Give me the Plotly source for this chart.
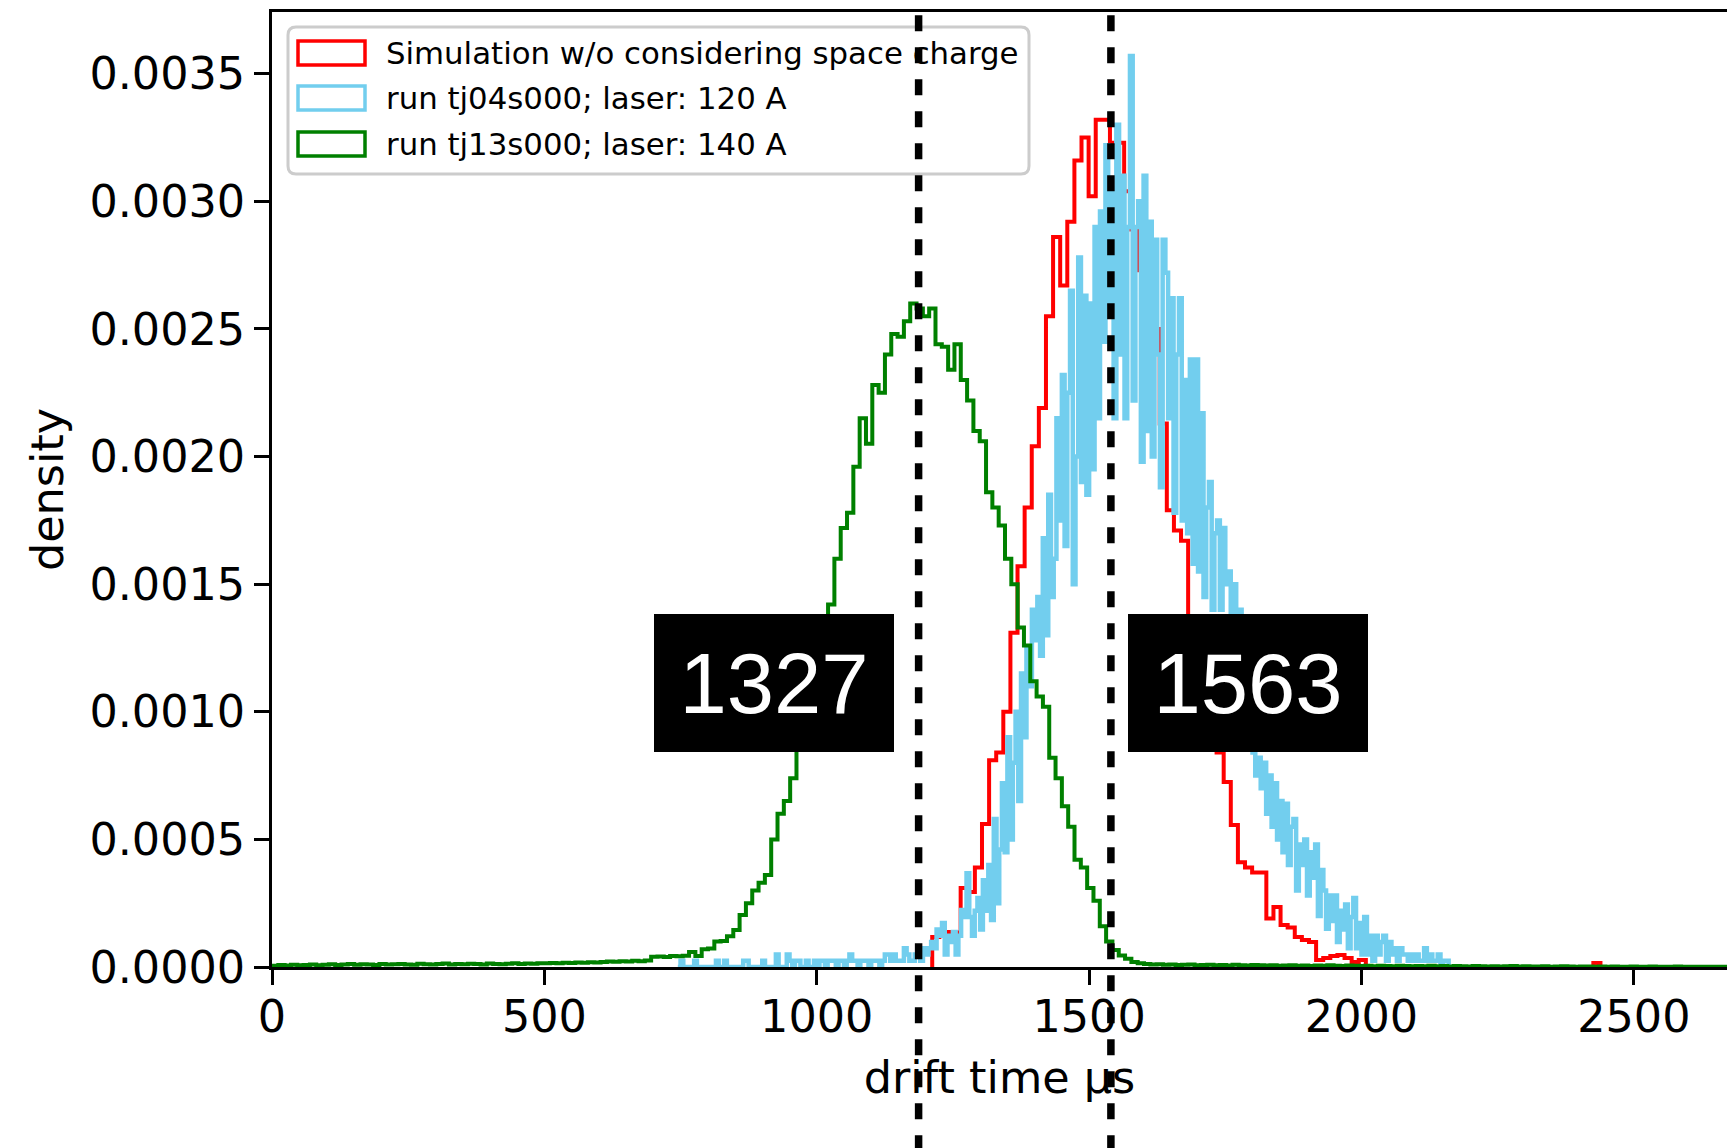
import plotly.graph_objects as go

# ---------------- data (densities in units of 1e-5) ----------------
series_names = [
    "Simulation w/o considering space charge",
    "run tj04s000; laser: 120 A",
    "run tj13s000; laser: 140 A",
]

# simulation (red): first bin edge, bin width (drift time, µs)
sim_start = 1212.0
sim_width = 13.05
sim_density_e5 = [
    11.8, 13.3, 13.7, 13.5, 31, 29.4, 39, 56, 81, 84,
    100, 131, 157, 180, 204, 219, 255, 286, 267, 292,
    316, 325, 302, 332, 332, 323, 323, 304, 289, 273,
    261, 250, 213, 179, 171, 167, 134, 118, 109, 99,
    84, 72.5, 55.6, 41, 39, 37, 37, 19, 23.5, 16.5,
    15.5, 11.8, 10.6, 9.8, 2.7, 3.5, 4.3, 4.7, 3.5, 2.0, 2.7,
    0, 0, 0, 0, 0, 0, 0, 0, 0, 0, 0, 0, 0, 0, 0, 0,
    0, 0, 0, 0, 0, 0, 0, 0, 0, 0, 0, 0, 0, 0, 0, 0,
    1.6,
    0, 0, 0, 0, 0, 0, 0, 0, 0, 0, 0, 0, 0, 0, 0, 0, 0, 0, 0,
]

# run tj04s000 (light blue)
run04_start = 745.0
run04_width = 5.0
run04_density_e5 = [
    0, 2.45, 0, 0, 0, 0, 2.45, 0, 0, 0,
    0, 0, 0, 0, 2.45, 0, 0, 2.45, 0, 0,
    0, 0, 0, 0, 2.45, 2.45, 0, 0, 0, 0,
    0, 2.45, 0, 0, 0, 0, 4.9, 0, 0, 0,
    4.9, 2.45, 0, 2.45, 2.45, 0, 0, 2.45, 0, 0,
    2.45, 0, 2.45, 2.45, 0, 2.45, 2.45, 2.45, 0, 2.45,
    2.45, 0, 2.45, 4.9, 2.45, 2.45, 0, 2.45, 2.45, 2.45,
    0, 2.45, 2.45, 2.45, 0, 2.45, 4.9, 4.9, 2.45, 4.9,
    2.45, 2.45, 2.45, 7.35, 4.9, 2.45, 2.45, 4.9, 4.9, 2.45,
    7.35, 4.9, 7.35, 9.8, 7.35, 14.7, 12.2, 17.2, 4.9, 12.2,
    9.8, 13.7, 4.9, 12.2, 22.3, 19.6, 36.7, 19.6, 12.2, 22,
    27, 14.7, 34, 22, 40, 18.4, 58, 25, 46, 72,
    45, 90, 50, 80, 100, 65, 115, 90, 125, 110,
    140, 128, 145, 122, 168, 130, 185, 145, 160, 215,
    175, 232, 165, 225, 265, 150, 200, 278, 190, 263,
    185, 260, 195, 290, 215, 296, 245, 322, 260, 305,
    215, 330, 240, 310, 215, 290, 357, 222, 290, 300,
    198, 310, 210, 292, 200, 285, 240, 188, 285, 272,
    215, 262, 178, 240, 262, 175, 230, 170, 238, 158,
    238, 155, 217, 145, 180, 190, 140, 170, 175, 140,
    172, 150, 155, 135, 150, 125, 140, 115, 120, 100,
    110, 84, 75, 82, 70, 80, 60, 75, 55, 72,
    50, 65, 45, 64, 40, 55, 58, 30, 48, 40,
    50, 28, 45, 35, 48, 20, 38, 30, 15, 28,
    18, 28, 9.8, 22, 14.7, 24.5, 7.35, 19.6, 27, 7.35,
    17.2, 4.9, 19.6, 4.9, 12.2, 2.45, 12.2, 4.9, 9.8, 12.2,
    2.45, 9.8, 4.9, 7.35, 2.45, 7.35, 4.9, 4.9, 2.45, 4.9,
    2.45, 4.9, 2.45, 2.45, 7.35, 2.45, 4.9, 2.45, 2.45, 4.9,
    0, 2.45, 2.45, 0,
]

# run tj13s000 (green)
run13_start = 0.0
run13_width = 11.6
run13_density_e5 = [
    0.5, 0.8, 0.6, 0.9, 0.7, 0.8, 1.0, 0.7, 0.9, 1.1,
    0.8, 1.0, 1.2, 0.9, 1.1, 1.0, 0.8, 1.2, 1.0, 1.1,
    1.2, 1.0, 0.9, 1.3, 1.1, 1.0, 1.2, 1.4, 1.0, 1.2,
    1.1, 1.3, 1.2, 1.0, 1.4, 1.2, 1.1, 1.3, 1.5, 1.2,
    1.4, 1.3, 1.5, 1.5, 1.6, 1.5, 1.7, 1.6, 1.8, 1.7,
    1.9, 1.8, 2.0, 2.2, 2.1, 2.3, 2.2, 2.4, 2.3, 2.5,
    4.0, 4.1, 3.9, 4.3, 4.2, 4.4, 5.9, 4.3, 7.0, 7.2,
    10, 10.2, 12, 14.5, 20.4, 25, 30, 33, 36, 50,
    60, 65, 74, 89, 98, 112, 122, 135, 142, 160,
    172, 178, 196, 215, 205, 228, 225, 240, 248, 247,
    253, 260, 258, 255, 258, 244, 243, 234, 244, 230,
    222, 210, 206, 186, 180, 173, 160, 150, 133, 126,
    112, 106, 102, 82, 74, 63, 55, 42, 39, 31,
    26, 16, 10, 6.7, 4.5, 3.2, 2.0, 1.5,
    1.2, 1.0, 1.1, 0.9, 1.0, 0.8, 0.9, 1.0, 0.7, 0.8,
    0.9, 0.7, 0.8, 0.6, 0.9, 0.7, 0.6, 0.8, 0.7, 0.6,
    0.7, 0.5, 0.6, 0.7, 0.5, 0.6, 0.4, 0.6, 0.5, 0.7,
    0.5, 0.4, 0.6, 0.5, 0.4, 0.5, 0.3, 0.5, 0.4, 0.3,
    0.5, 0.4, 0.3, 0.4, 0.3, 0.5, 0.3, 0.4, 0.2, 0.4,
    0.3, 0.2, 0.4, 0.3, 0.2, 0.3, 0.2, 0.3, 0.4, 0.2,
    0.3, 0.2, 0.2, 0.3, 0.1, 0.2, 0.3, 0.2, 0.1, 0.2,
    0.2, 0.1, 0.2, 0.1, 0.2, 0.1, 0.1, 0.2, 0.1, 0.1,
    0.2, 0.1, 0.1, 0.1, 0.2, 0.1, 0.1, 0.1, 0.1, 0.1,
    0.1, 0.1, 0.1,
]

# marked drift times (vertical dashed lines) and their labels
marker_times = [1187, 1540]
label_texts = ["1327", "1563"]
label_x = [921, 1792]
label_y = 0.001114

x_ticks = [0, 500, 1000, 1500, 2000, 2500]
x_range = [0, 2671]
y_range = [0, 0.003742]

colors = ["#ff0000", "#72ceee", "#008000"]
line_widths = [4.0, 4.5, 4.0]

# ---------------- figure ----------------
W, H = 1727, 1148
L, R, T, B = 272, 0, 12, 181
PW, PH = W - L - R, H - T - B
TICK_FONT = 44.5


def xp(px):
    return (px - L) / PW


def yp(py):
    return (H - B - py) / PH


def step_xy(start, width, vals):
    edges = [start + width * i for i in range(len(vals) + 1)]
    xs = [edges[0]] + edges[:-1] + [edges[-1]]
    ys = [0.0] + [v * 1e-5 for v in vals] + [0.0]
    return xs, ys


fig = go.Figure()
datasets = [
    (sim_start, sim_width, sim_density_e5),
    (run04_start, run04_width, run04_density_e5),
    (run13_start, run13_width, run13_density_e5),
]
for (start, width, vals), name, col, lw in zip(datasets, series_names, colors, line_widths):
    xs, ys = step_xy(start, width, vals)
    fig.add_trace(go.Scatter(x=xs, y=ys, mode="lines", name=name,
                             line=dict(color=col, width=lw, shape="hv"),
                             hoverinfo="skip"))

shapes = []
# legend frame (rounded)
x0, y0, x1, y1, r = 288, 27, 1029, 174, 8
pts = [("M", [(x0 + r, y0)]), ("L", [(x1 - r, y0)]), ("Q", [(x1, y0), (x1, y0 + r)]),
       ("L", [(x1, y1 - r)]), ("Q", [(x1, y1), (x1 - r, y1)]), ("L", [(x0 + r, y1)]),
       ("Q", [(x0, y1), (x0, y1 - r)]), ("L", [(x0, y0 + r)]), ("Q", [(x0, y0), (x0 + r, y0)])]
path = ""
for cmd, pp in pts:
    path += cmd + " ".join(f"{xp(a):.6f},{yp(b):.6f}" for a, b in pp) + " "
path += "Z"
shapes.append(dict(type="path", xref="paper", yref="paper", path=path,
                   fillcolor="rgba(255,255,255,0.8)",
                   line=dict(color="#cccccc", width=3), layer="above"))
row_centers = [53, 98, 144]
for rc, col in zip(row_centers, colors):
    shapes.append(dict(type="rect", xref="paper", yref="paper",
                       x0=xp(298), x1=xp(365), y0=yp(rc + 12), y1=yp(rc - 12),
                       fillcolor="white", line=dict(color=col, width=3.5), layer="above"))
for t in marker_times:
    shapes.append(dict(type="line", xref="x", yref="paper", x0=t, x1=t,
                       y0=yp(-16.67), y1=yp(1160),
                       line=dict(color="black", width=7.5, dash="16px,16px"),
                       layer="above"))

annotations = []
for rc, name in zip(row_centers, series_names):
    annotations.append(dict(xref="paper", yref="paper", x=xp(384), y=yp(rc),
                            xanchor="left", yanchor="middle", text=name,
                            showarrow=False,
                            font=dict(family="DejaVu Sans", size=30.8, color="black")))
for lx, txt in zip(label_x, label_texts):
    annotations.append(dict(xref="x", yref="y", x=lx, y=label_y, text=txt,
                            showarrow=False, xanchor="center", yanchor="middle",
                            width=240, height=138, align="center", valign="middle",
                            bgcolor="black", borderwidth=0, borderpad=0,
                            font=dict(family="Liberation Sans", size=85, color="white")))

fig.update_layout(
    width=W, height=H,
    margin=dict(l=L, r=R, t=T, b=B, autoexpand=False),
    plot_bgcolor="white", paper_bgcolor="white",
    showlegend=False,
    font=dict(family="DejaVu Sans", size=TICK_FONT, color="black"),
    shapes=shapes, annotations=annotations,
    xaxis=dict(range=x_range, tickvals=x_ticks, ticks="outside", ticklen=15,
               tickwidth=3, tickcolor="black", showline=True, linewidth=3,
               linecolor="black", mirror=True, showgrid=False, zeroline=False,
               tickfont=dict(size=TICK_FONT), ticklabelstandoff=-6,
               title=dict(text="drift time µs", font=dict(size=TICK_FONT), standoff=21)),
    yaxis=dict(range=y_range, dtick=0.0005, tick0=0, tickformat=".4f",
               ticks="outside", ticklen=15, tickwidth=3, tickcolor="black",
               showline=True, linewidth=3, linecolor="black", mirror=False,
               showgrid=False, zeroline=False, tickfont=dict(size=TICK_FONT),
               title=dict(text="density", font=dict(size=TICK_FONT), standoff=12)),
)

fig.write_html("out.html")
